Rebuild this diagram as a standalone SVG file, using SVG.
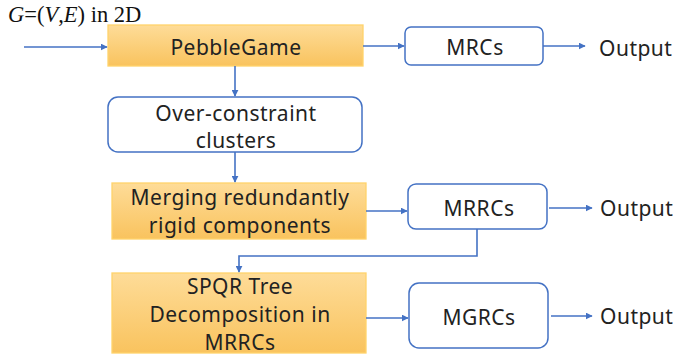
<svg xmlns="http://www.w3.org/2000/svg" width="674" height="360" viewBox="0 0 674 360">
<defs>
<linearGradient id="og" x1="0" y1="0" x2="0" y2="1">
<stop offset="0" stop-color="#FEDC98"/>
<stop offset="1" stop-color="#F9C35E"/>
</linearGradient>
<marker id="ah" viewBox="0 0 10 10" refX="9" refY="5" markerWidth="7" markerHeight="7" markerUnits="userSpaceOnUse" orient="auto">
<path d="M0,0 L10,5 L0,10 z" fill="#4472C4"/>
</marker>
</defs>
<style>
.o{fill:url(#og);stroke:#FFD36B;stroke-width:1.3}
.b{fill:#fff;stroke:#4472C4;stroke-width:1.5}
.t{font-family:"Noto Sans","Open Sans",sans-serif;font-size:21px;letter-spacing:0.5px;fill:#222;text-anchor:middle}
.s{text-anchor:start}
.c{fill:none;stroke:#4472C4;stroke-width:1.6;marker-end:url(#ah)}
</style>
<text x="8" y="22" font-family="Liberation Serif,serif" font-size="22.5" fill="#111"><tspan font-style="italic">G</tspan>=(<tspan font-style="italic">V</tspan>,<tspan font-style="italic">E</tspan>) in 2D</text>
<g id="pebble"><rect class="o" x="108" y="25" width="255" height="41"/><text class="t" x="236" y="55">PebbleGame</text></g>
<g id="mrcs"><rect class="b" x="405" y="27" width="138" height="38" rx="6"/><text class="t" x="475" y="55">MRCs</text></g>
<g id="out1"><text class="t s" x="599" y="56">Output</text></g>
<g id="over"><rect class="b" x="108" y="97" width="254" height="55" rx="10"/><text class="t" x="236" y="121">Over-constraint</text><text class="t" x="236" y="148">clusters</text></g>
<g id="merge"><rect class="o" x="112" y="183" width="254" height="56"/><text class="t" x="240" y="205">Merging redundantly</text><text class="t" x="240" y="233">rigid components</text></g>
<g id="mrrcs"><rect class="b" x="408" y="184" width="139" height="45" rx="8"/><text class="t" x="479" y="216">MRRCs</text></g>
<g id="out2"><text class="t s" x="600" y="216">Output</text></g>
<g id="spqr"><rect class="o" x="112" y="273" width="254" height="80"/><text class="t" x="240" y="294">SPQR Tree</text><text class="t" x="240" y="322">Decomposition in</text><text class="t" x="240" y="350">MRRCs</text></g>
<g id="mgrcs"><rect class="b" x="409" y="283" width="139" height="65" rx="10"/><text class="t" x="479" y="325">MGRCs</text></g>
<g id="out3"><text class="t s" x="600" y="324">Output</text></g>
<g id="connectors">
<path class="c" d="M24,47 H107"/>
<path class="c" d="M363,46 H404"/>
<path class="c" d="M543,46 H585"/>
<path class="c" d="M235,66 V96"/>
<path class="c" d="M235,152 V182"/>
<path class="c" d="M366,211 H407"/>
<path class="c" d="M549,208 H592"/>
<path class="c" d="M477,229 V256 H239 V272"/>
<path class="c" d="M366,318 H408"/>
<path class="c" d="M551,316 H592"/>
</g>
</svg>
